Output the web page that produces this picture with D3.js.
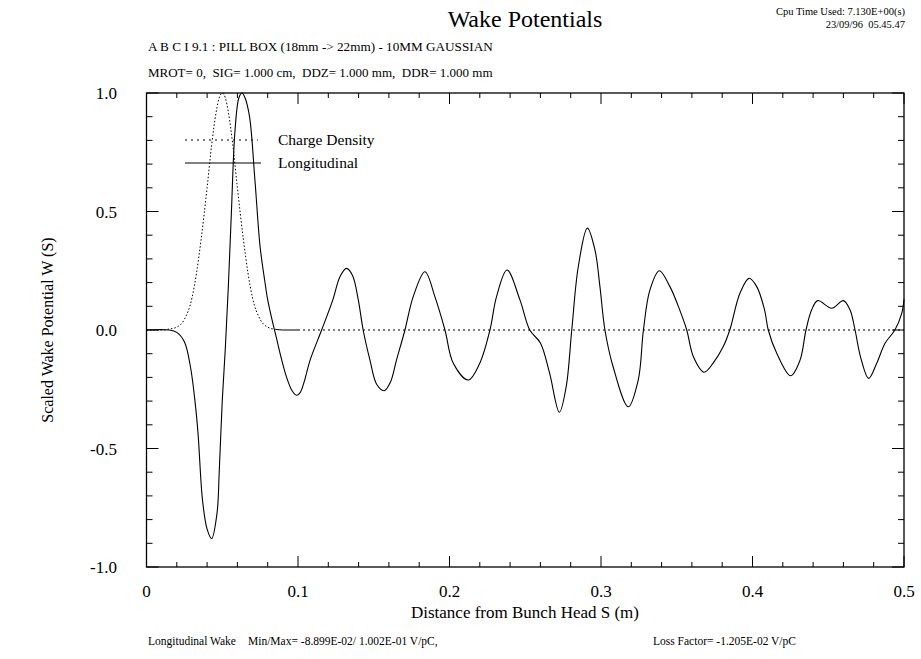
<!DOCTYPE html>
<html>
<head>
<meta charset="utf-8">
<script src="https://cdn.jsdelivr.net/npm/d3@7"></script>
<style>
  body { margin: 0; background: #fff; }
  text { font-family: "Liberation Serif", "Times New Roman", serif; fill: #000; }
</style>
</head>
<body>
<svg id="chart" width="921" height="659"></svg>
<script>
// charge density, s in m
var chargeS   = [0, 0.01, 0.015, 0.02, 0.025, 0.03, 0.033, 0.036, 0.04, 0.043, 0.046, 0.048, 0.05,
                 0.052, 0.054, 0.057, 0.06, 0.064, 0.067, 0.07, 0.075, 0.08, 0.085, 0.09, 0.1, 0.5]
var chargeVal = [0, 0, 0.004, 0.012, 0.045, 0.135, 0.24, 0.38, 0.6, 0.78, 0.92, 0.98, 1.0,
                 0.98, 0.92, 0.78, 0.6, 0.38, 0.24, 0.135, 0.045, 0.012, 0.003, 0, 0, 0]

// longitudinal wake (scaled)
var wakeS = [0, 0.015, 0.02, 0.025, 0.029, 0.032, 0.034, 0.037, 0.04, 0.043, 0.0466, 0.048, 0.05,
  0.052, 0.054, 0.056, 0.0584, 0.061, 0.063, 0.065, 0.068, 0.0716, 0.075, 0.078, 0.08, 0.083,
  0.086, 0.089, 0.0925, 0.096, 0.099, 0.1013, 0.104, 0.108, 0.1156, 0.123, 0.1277, 0.132, 0.136,
  0.1398, 0.143, 0.1475, 0.152, 0.157, 0.161, 0.165, 0.1706, 0.176, 0.1838, 0.1904, 0.197, 0.2025,
  0.2124, 0.22, 0.2267, 0.231, 0.238, 0.2465, 0.253, 0.26, 0.266, 0.2725, 0.277, 0.2807, 0.285,
  0.291, 0.296, 0.2993, 0.3026, 0.308, 0.318, 0.3246, 0.328, 0.3323, 0.3385, 0.3455, 0.352, 0.3566,
  0.361, 0.368, 0.374, 0.3807, 0.385, 0.3917, 0.3977, 0.4028, 0.408, 0.4104, 0.416, 0.4252, 0.4314,
  0.4353, 0.439, 0.443, 0.4523, 0.46, 0.4644, 0.4677, 0.4713, 0.4767, 0.482, 0.4875, 0.494, 0.4985, 0.5]
var wakeVal = [0, 0, -0.01, -0.05, -0.155, -0.3, -0.435, -0.72, -0.84, -0.88, -0.77, -0.6, -0.3,
  -0.08, 0.18, 0.49, 0.84, 0.98, 1.0, 0.98, 0.9, 0.63, 0.35, 0.21, 0.127, 0.04,
  -0.04, -0.12, -0.2, -0.255, -0.275, -0.265, -0.22, -0.127, 0, 0.127, 0.225, 0.26, 0.23,
  0.127, 0, -0.127, -0.23, -0.256, -0.22, -0.127, 0, 0.14, 0.246, 0.14, 0, -0.14,
  -0.211, -0.14, 0, 0.14, 0.253, 0.127, 0, -0.055, -0.18, -0.347, -0.24, 0, 0.267,
  0.43, 0.338, 0.183, 0, -0.155, -0.324, -0.21, 0, 0.169, 0.25, 0.183, 0.084, 0,
  -0.113, -0.178, -0.14, -0.07, 0, 0.155, 0.218, 0.183, 0.084, 0, -0.098, -0.193, -0.127,
  0, 0.084, 0.124, 0.092, 0.124, 0.084, 0, -0.113, -0.204, -0.14, -0.056, 0, 0.07, 0.13]

var xTicks = [0, 0.1, 0.2, 0.3, 0.4, 0.5]
var xTickLabels = ['0', '0.1', '0.2', '0.3', '0.4', '0.5']
var yTicks = [-1.0, -0.5, 0.0, 0.5, 1.0]
var yTickLabels = ['-1.0', '-0.5', '0.0', '0.5', '1.0']

function drawChart() {
  var svg = d3.select('#chart')
  var plotLeft = 146.5, plotRight = 904, plotTop = 93, plotBottom = 567

  var x = d3.scaleLinear().domain([0, 0.5]).range([plotLeft, plotRight])
  var y = d3.scaleLinear().domain([-1, 1]).range([plotBottom, plotTop])

  var charge = chargeS.map((s, i) => ({ s: s, v: chargeVal[i] }))
  var wake = wakeS.map((s, i) => ({ s: s, v: wakeVal[i] }))

  // header texts
  svg.append('text').attr('x', 525).attr('y', 27).attr('text-anchor', 'middle')
    .style('font-size', '24px').text('Wake Potentials')
  svg.append('text').attr('x', 148).attr('y', 51).style('font-size', '13.2px')
    .text('A B C I 9.1 : PILL BOX (18mm -> 22mm) - 10MM GAUSSIAN')
  svg.append('text').attr('x', 148).attr('y', 77).style('font-size', '13px')
    .attr('xml:space', 'preserve')
    .text('MROT= 0,  SIG= 1.000 cm,  DDZ= 1.000 mm,  DDR= 1.000 mm')
  svg.append('text').attr('x', 905).attr('y', 15).attr('text-anchor', 'end')
    .style('font-size', '10.5px').text('Cpu Time Used: 7.130E+00(s)')
  svg.append('text').attr('x', 905).attr('y', 28).attr('text-anchor', 'end')
    .style('font-size', '10.5px').attr('xml:space', 'preserve').text('23/09/96  05.45.47')

  // frame
  var g = svg.append('g')
  g.append('rect').attr('x', plotLeft).attr('y', plotTop)
    .attr('width', plotRight - plotLeft).attr('height', plotBottom - plotTop)
    .attr('fill', 'none').attr('stroke', '#000').attr('stroke-width', 1.3)

  // ticks inside on all four sides
  var xMinor = d3.range(0, 0.5001, 0.02)
  xMinor.forEach(t => {
    var major = xTicks.some(m => Math.abs(m - t) < 1e-6)
    var len = major ? 11 : 5
    g.append('line').attr('x1', x(t)).attr('x2', x(t)).attr('y1', plotBottom).attr('y2', plotBottom - len)
      .attr('stroke', '#000')
    g.append('line').attr('x1', x(t)).attr('x2', x(t)).attr('y1', plotTop).attr('y2', plotTop + len)
      .attr('stroke', '#000')
  })
  var yMinor = d3.range(-1, 1.0001, 0.1)
  yMinor.forEach(t => {
    var major = yTicks.some(m => Math.abs(m - t) < 1e-6)
    var len = major ? 12 : 6
    g.append('line').attr('x1', plotLeft).attr('x2', plotLeft + len).attr('y1', y(t)).attr('y2', y(t))
      .attr('stroke', '#000')
    g.append('line').attr('x1', plotRight).attr('x2', plotRight - len).attr('y1', y(t)).attr('y2', y(t))
      .attr('stroke', '#000')
  })

  xTicks.forEach((t, i) => {
    svg.append('text').attr('x', x(t)).attr('y', 597).attr('text-anchor', 'middle')
      .style('font-size', '17px').text(xTickLabels[i])
  })
  yTicks.forEach((t, i) => {
    svg.append('text').attr('x', 117).attr('y', y(t) + 6).attr('text-anchor', 'end')
      .style('font-size', '17px').text(yTickLabels[i])
  })

  svg.append('text').attr('x', 525).attr('y', 618).attr('text-anchor', 'middle')
    .style('font-size', '17px').text('Distance from Bunch Head S (m)')
  svg.append('text').attr('transform', 'translate(53,330) rotate(-90)').attr('text-anchor', 'middle')
    .style('font-size', '16px').text('Scaled Wake Potential W (S)')

  // curves
  var line = d3.line().x(d => x(d.s)).y(d => y(d.v)).curve(d3.curveMonotoneX)
  var wakeLine = d3.line().x(d => x(d.s)).y(d => y(d.v)).curve(d3.curveCatmullRom.alpha(0.5))

  g.append('path').datum(charge.filter(d => d.s <= 0.085))
    .attr('d', line).attr('fill', 'none').attr('stroke', '#000').attr('stroke-width', 1)
    .attr('stroke-dasharray', '1.5,2')
  g.append('path').datum(charge.filter(d => d.s >= 0.085 && d.s <= 0.1))
    .attr('d', line).attr('fill', 'none').attr('stroke', '#000').attr('stroke-width', 1)
  g.append('path').datum(charge.filter(d => d.s >= 0.1))
    .attr('d', line).attr('fill', 'none').attr('stroke', '#000').attr('stroke-width', 1)
    .attr('stroke-dasharray', '2,3')

  g.append('path').datum(wake)
    .attr('d', wakeLine).attr('fill', 'none').attr('stroke', '#000').attr('stroke-width', 1.1)

  // legend
  var legend = svg.append('g')
  legend.append('line').attr('x1', 185).attr('x2', 258).attr('y1', 140).attr('y2', 140)
    .attr('stroke', '#000').attr('stroke-dasharray', '2,4')
  legend.append('text').attr('x', 278).attr('y', 145).style('font-size', '15.5px').text('Charge Density')
  legend.append('line').attr('x1', 185).attr('x2', 261).attr('y1', 163).attr('y2', 163)
    .attr('stroke', '#000')
  legend.append('text').attr('x', 278).attr('y', 168).style('font-size', '15.5px').text('Longitudinal')

  // footer
  svg.append('text').attr('x', 148).attr('y', 645).style('font-size', '11.5px').text('Longitudinal Wake')
  svg.append('text').attr('x', 248).attr('y', 645).style('font-size', '11.5px')
    .text('Min/Max= -8.899E-02/ 1.002E-01 V/pC,')
  svg.append('text').attr('x', 653).attr('y', 645).style('font-size', '11.5px')
    .text('Loss Factor= -1.205E-02 V/pC')
}

drawChart()
</script>
</body>
</html>
